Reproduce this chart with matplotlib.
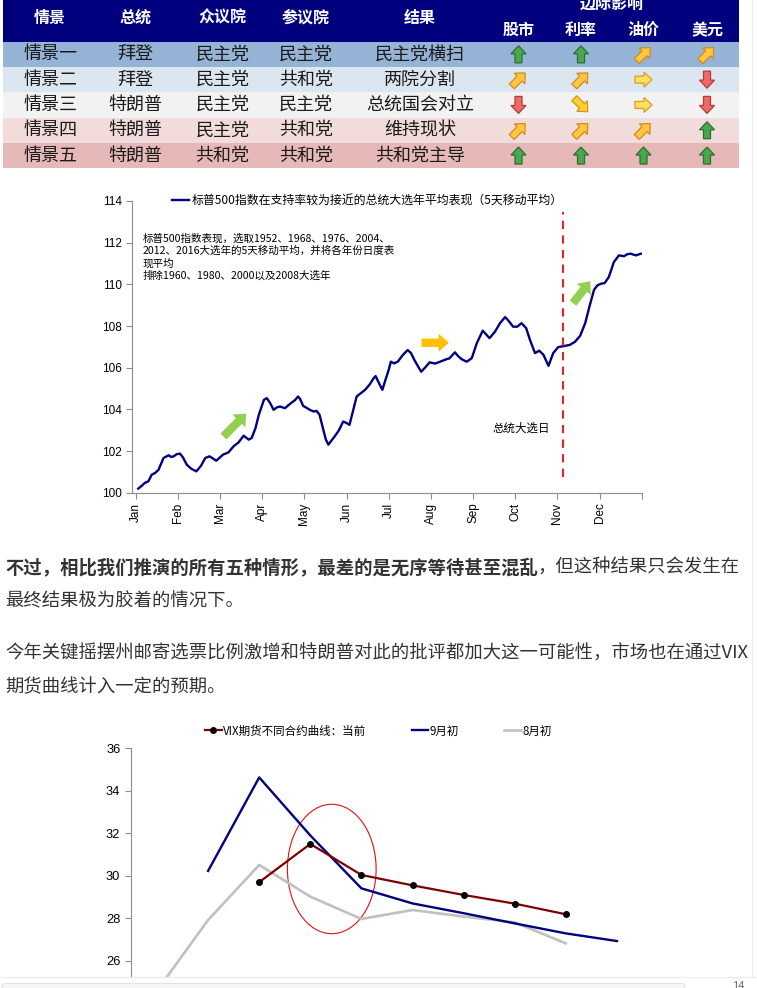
import matplotlib

matplotlib.use("Agg")
import matplotlib.pyplot as plt
import numpy as np
from matplotlib.patches import Ellipse, FancyArrow, FancyBboxPatch, Rectangle

plt.rcParams["font.family"] = ["Noto Sans CJK SC", "DejaVu Sans"]
TICK_FONT = ["Liberation Sans", "DejaVu Sans"]

# ---- table data ----
header = ["情景", "总统", "众议院", "参议院", "结果"]
impact_cols = ["股市", "利率", "油价", "美元"]
scenarios = ["情景一", "情景二", "情景三", "情景四", "情景五"]
presidents = ["拜登", "拜登", "特朗普", "特朗普", "特朗普"]
house = ["民主党", "民主党", "民主党", "民主党", "共和党"]
senate = ["民主党", "共和党", "民主党", "共和党", "共和党"]
outcomes = ["民主党横扫", "两院分割", "总统国会对立", "维持现状", "共和党主导"]
impacts = [
    ["up", "up", "ne", "ne"],
    ["ne", "ne", "right", "down"],
    ["down", "se", "right", "down"],
    ["ne", "ne", "ne", "up"],
    ["up", "up", "up", "up"],
]

# ---- chart 1: S&P 500 in close election years (5d MA), x in months from Jan 1 ----
month_labels = ["Jan", "Feb", "Mar", "Apr", "May", "Jun",
                "Jul", "Aug", "Sep", "Oct", "Nov", "Dec"]
spx_month = [
    0.06, 0.15, 0.22, 0.30, 0.38, 0.46, 0.54, 0.66, 0.78, 0.84, 0.90, 0.97,
    1.05, 1.12, 1.21, 1.32, 1.44, 1.55, 1.65, 1.75, 1.83, 1.91, 2.00, 2.07,
    2.20, 2.32, 2.44, 2.56, 2.68, 2.75, 2.84, 2.92, 3.04, 3.11, 3.19, 3.27,
    3.35, 3.42, 3.54, 3.62, 3.70, 3.78, 3.85, 3.90, 3.97, 4.05, 4.13, 4.22,
    4.29, 4.36, 4.45, 4.51, 4.57, 4.64, 4.72, 4.82, 4.92, 5.00, 5.07, 5.15,
    5.24, 5.32, 5.44, 5.55, 5.64, 5.69, 5.76, 5.85, 5.92, 6.00, 6.05, 6.13,
    6.22, 6.33, 6.45, 6.53, 6.61, 6.70, 6.77, 6.86, 6.97, 7.10, 7.22, 7.37,
    7.44, 7.57, 7.65, 7.73, 7.85, 7.97, 8.09, 8.23, 8.39, 8.52, 8.64, 8.76,
    8.84, 8.95, 9.05, 9.15, 9.26, 9.35, 9.47, 9.57, 9.67, 9.79, 9.90, 10.02,
    10.18, 10.30, 10.42, 10.54, 10.66, 10.76, 10.87, 10.95, 11.03, 11.12,
    11.22, 11.34, 11.46, 11.58, 11.66, 11.74, 11.86, 11.98,
]
spx_value = [
    100.20, 100.35, 100.48, 100.55, 100.87, 100.95, 101.10, 101.67, 101.80, 101.72, 101.75, 101.85,
    101.88, 101.70, 101.35, 101.15, 101.03, 101.30, 101.67, 101.75, 101.65, 101.54, 101.70, 101.83,
    101.94, 102.23, 102.42, 102.74, 102.55, 102.63, 103.10, 103.74, 104.46, 104.54, 104.30, 103.98,
    104.10, 104.14, 104.06, 104.20, 104.33, 104.45, 104.62, 104.50, 104.17, 104.08, 103.98, 103.90,
    103.93, 103.74, 103.02, 102.55, 102.31, 102.50, 102.71, 103.00, 103.42, 103.35, 103.26, 103.90,
    104.62, 104.75, 104.94, 105.20, 105.49, 105.60, 105.30, 104.94, 105.40, 105.90, 106.29, 106.21,
    106.30, 106.60, 106.85, 106.70, 106.37, 106.05, 105.81, 106.00, 106.26, 106.20, 106.29, 106.41,
    106.45, 106.74, 106.55, 106.41, 106.29, 106.46, 107.18, 107.78, 107.42, 107.73, 108.14, 108.43,
    108.26, 107.97, 107.97, 108.14, 107.90, 107.34, 106.70, 106.82, 106.62, 106.09, 106.70, 106.99,
    107.05, 107.10, 107.25, 107.53, 108.14, 108.93, 109.74, 109.95, 110.03, 110.06,
    110.35, 111.07, 111.39, 111.35, 111.45, 111.47, 111.39, 111.47,
]
election_month = 10.14
spx_legend = "标普500指数在支持率较为接近的总统大选年平均表现（5天移动平均）"
spx_note = ("标普500指数表现，选取1952、1968、1976、2004、\n"
            "2012、2016大选年的5天移动平均，并将各年份日度表\n"
            "现平均\n"
            "排除1960、1980、2000以及2008大选年")

# ---- chart 2: VIX futures curve ----
contract_idx = list(range(10))
nan = np.nan
vix_now = [nan, nan, 29.7, 31.5, 30.04, 29.55, 29.1, 28.69, 28.19, nan]
vix_sep = [nan, 30.23, 34.63, 31.9, 29.41, 28.7, 28.24, 27.76, 27.29, 26.93]
vix_aug = [24.6, 27.92, 30.51, 29.02, 27.97, 28.39, 28.08, 27.81, 26.82, nan]
vix_labels = ["VIX期货不同合约曲线：当前", "9月初", "8月初"]

W, H = 757, 988
fig = plt.figure(figsize=(W / 100, H / 100), dpi=100)
bg = fig.add_axes((0, 0, 1, 1))
bg.set_xlim(0, W)
bg.set_ylim(H, 0)
bg.axis("off")

# ---- table ----
col_x = [50, 135.7, 222.5, 305.7, 420]
imp_x = [518.5, 581, 643.5, 707]
tab_left, tab_right = 3, 738.7
head_h, row_h = 41.7, 25.3
row_colors = ["#95B3D7", "#DCE6F1", "#F2F2F2", "#F2DCDB", "#E6B9B8"]
bg.add_patch(Rectangle((tab_left, 0), tab_right - tab_left, head_h, fc="#00007E", ec="none"))
for i, c in enumerate(row_colors):
    bg.add_patch(Rectangle((tab_left, head_h + i * row_h), tab_right - tab_left, row_h,
                           fc=c, ec="none"))
for x, t in zip(col_x, header):
    bg.text(x, 17.5, t, color="white", fontsize=11.5, fontweight="bold",
            ha="center", va="center")
bg.text(612, 4, "边际影响", color="white", fontsize=11.5, fontweight="bold",
        ha="center", va="center")
for x, t in zip(imp_x, impact_cols):
    bg.text(x, 30, t, color="white", fontsize=11.5, fontweight="bold", ha="center", va="center")

icon_style = {
    "up": ((0, -1), "#49A84F", "#2C6E31"),
    "down": ((0, 1), "#EE6A6A", "#B83A36"),
    "right": ((1, 0), "#FFE15A", "#DD9A2A"),
    "ne": ((0.707, -0.707), "#FFC640", "#D48A1E"),
    "se": ((0.707, 0.707), "#FFD02E", "#D4961E"),
}


def draw_icon(ax, cx, cy, kind):
    (ux, uy), fc, ec = icon_style[kind]
    L = 17 if kind in ("up", "down", "right") else 19
    ax.add_patch(FancyArrow(cx - ux * L / 2, cy - uy * L / 2, ux * L, uy * L, width=7,
                            head_width=15, head_length=8, length_includes_head=True,
                            fc=fc, ec=ec, lw=0.9))


for i in range(len(scenarios)):
    yc = head_h + (i + 0.5) * row_h
    for x, t in zip(col_x, [scenarios[i], presidents[i], house[i], senate[i], outcomes[i]]):
        bg.text(x, yc, t, color="#1a1a1a", fontsize=13, ha="center", va="center")
    for x, kind in zip(imp_x, impacts[i]):
        draw_icon(bg, x, yc, kind)

# ---- paragraphs ----
txt_kw = dict(fontsize=13.2, color="#333333", va="center", ha="left")
b = bg.text(5, 568, "不过，相比我们推演的所有五种情形，最差的是无序等待甚至混乱",
            fontweight="bold", **txt_kw)
fig.canvas.draw()
bb = b.get_window_extent(fig.canvas.get_renderer())
x_end = bg.transData.inverted().transform((bb.x1, bb.y0))[0]
bg.text(x_end, 568, "，但这种结果只会发生在", **txt_kw)
bg.text(5, 601, "最终结果极为胶着的情况下。", **txt_kw)
bg.text(5, 654, "今年关键摇摆州邮寄选票比例激增和特朗普对此的批评都加大这一可能性，市场也在通过VIX",
        **txt_kw)
bg.text(5, 687, "期货曲线计入一定的预期。", **txt_kw)
bg.plot([752, 752], [0, 976], color="#EDEDED", lw=0.8)

# ---- chart 1 ----
ax1 = fig.add_axes((131.7 / W, 1 - 492.8 / H, 510 / W, 291.8 / H))
ax1.set_facecolor("none")
ax1.plot(spx_month, spx_value, color="#000080", lw=1.7, label=spx_legend)
ax1.set_xlim(-0.095, 12)
ax1.set_ylim(100, 114)
ax1.set_yticks(range(100, 115, 2))
ax1.set_xticks(range(13))
ax1.set_xticklabels(month_labels + [""], rotation=90, family=TICK_FONT, fontsize=8.5)
for lab in ax1.get_yticklabels():
    lab.set_family(TICK_FONT)
    lab.set_fontsize(8.5)
for s in ("top", "right"):
    ax1.spines[s].set_visible(False)
for s in ("left", "bottom"):
    ax1.spines[s].set_color("#8C8C8C")
ax1.tick_params(direction="out", length=4, color="#8C8C8C", pad=3)
ax1.plot([election_month, election_month], [100.75, 113.45], color="#E8202A", lw=1.5,
         ls=(0, (4, 3)))
ax1.text(9.15, 103.1, "总统大选日", fontsize=8.3, ha="center", va="center")
ax1.text(0.17, 112.45, spx_note, fontsize=7.6, ha="left", va="top", linespacing=1.25)
ax1.legend(loc="center left", bbox_to_anchor=(172 / W, 1 - 201 / H),
           bbox_transform=fig.transFigure, frameon=False, borderpad=0, borderaxespad=0,
           handlelength=1.45, handletextpad=0.2, fontsize=8.6)


def block_arrow(ax, tail, head, color, scale):
    ax.annotate("", xy=head, xytext=tail,
                arrowprops=dict(arrowstyle="simple,head_length=0.75,head_width=1.3,tail_width=0.6",
                                fc=color, ec="none", shrinkA=0, shrinkB=0,
                                mutation_scale=scale))


block_arrow(ax1, (2.08, 102.7), (2.62, 103.8), "#92D050", 10)
block_arrow(ax1, (6.78, 107.2), (7.43, 107.2), "#FFC000", 10)
block_arrow(ax1, (10.37, 109.1), (10.78, 110.15), "#92D050", 10)

# ---- chart 2 ----
ax2 = fig.add_axes((131.45 / W, 1 - 1003.3 / H, 613.2 / W, 255 / H))
ax2.set_facecolor("none")
l_aug, = ax2.plot(contract_idx, vix_aug, color="#C0C0C0", lw=1.9, label=vix_labels[2])
l_sep, = ax2.plot(contract_idx, vix_sep, color="#000080", lw=1.7, label=vix_labels[1])
l_now, = ax2.plot(contract_idx, vix_now, color="#7F0000", lw=1.6, marker="o",
                  markersize=4, mfc="black", mec="black", label=vix_labels[0])
ax2.set_xlim(-0.5, 11.5)
ax2.set_ylim(24, 36)
ax2.set_yticks(range(26, 37, 2))
ax2.set_xticks([])
for lab in ax2.get_yticklabels():
    lab.set_family(TICK_FONT)
    lab.set_fontsize(9.3)
for s in ("top", "right", "bottom"):
    ax2.spines[s].set_visible(False)
ax2.spines["left"].set_color("#8C8C8C")
ax2.tick_params(direction="out", length=4, color="#8C8C8C", pad=4)
ax2.add_patch(Ellipse((3.42, 30.32), 1.736, 6.09, fill=False, ec="#E01010", lw=0.8))
ax2.legend(handles=[l_now, l_sep, l_aug], loc="center left",
           bbox_to_anchor=(205 / W, 1 - 731 / H), bbox_transform=fig.transFigure,
           ncol=3, frameon=False, borderpad=0, borderaxespad=0, handlelength=1.45,
           handletextpad=0.15, columnspacing=3.9, fontsize=8.3)

# ---- page footer (drawn on top) ----
top = fig.add_axes((0, 0, 1, 1))
top.set_facecolor("none")
top.set_xlim(0, W)
top.set_ylim(H, 0)
top.axis("off")
top.add_patch(Rectangle((0, 977), W, 12, fc="white", ec="none"))
top.plot([0, W], [977, 977], color="#EBEBEB", lw=0.8)
top.add_patch(FancyBboxPatch((2, 983.5), 683, 10, boxstyle="round,pad=0,rounding_size=3",
                             fc="#F7F7F7", ec="#E2E2E2", lw=0.8))
top.text(738, 980.5, "14", fontsize=8, color="#666666", ha="center", va="top", family=TICK_FONT)

fig.savefig("out.png", dpi=100)
